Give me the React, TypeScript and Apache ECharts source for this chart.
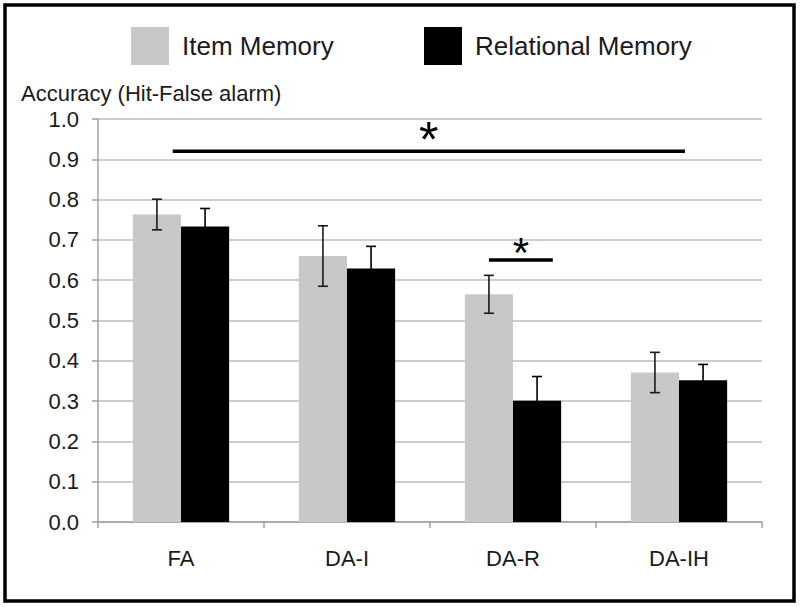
import React, { useEffect, useRef } from "react";
import * as echarts from "echarts";

const categories = ["FA", "DA-I", "DA-R", "DA-IH"];
const itemMean = [0.763, 0.66, 0.565, 0.371];
const itemErr = [0.038, 0.075, 0.047, 0.05];
const relMean = [0.733, 0.629, 0.301, 0.352];
const relErr = [0.045, 0.055, 0.06, 0.039];
const yTicks = [0, 0.1, 0.2, 0.3, 0.4, 0.5, 0.6, 0.7, 0.8, 0.9, 1.0];
// significance annotations (level, start/end in category units relative to FA)
const sigLevel = [0.92, 0.65];
const sigFrom = [-0.05, 1.855];
const sigTo = [3.036, 2.24];
const sigLabel = ["*", "*"];

const sigSize = [50, 42];
const sigRaise = [11, 7.5];
const FONT = "'Liberation Sans', Arial, Helvetica, sans-serif";
const GAP = 0.42;

function errRender(sign: number, color: string) {
  return (params: any, api: any) => {
    const i = api.value(0);
    const v = api.value(1);
    const e = api.value(2);
    const band = api.size([1, 0])[0];
    const off = (sign * band * (1 - GAP)) / 4;
    const top = api.coord([i, v + e]);
    const bot = api.coord([i, v - e]);
    const x = top[0] + off;
    const cap = 5;
    const style = { stroke: color, lineWidth: 1.6 };
    return {
      type: "group",
      children: [
        { type: "line", shape: { x1: x, y1: top[1], x2: x, y2: bot[1] }, style },
        { type: "line", shape: { x1: x - cap, y1: top[1], x2: x + cap, y2: top[1] }, style },
        { type: "line", shape: { x1: x - cap, y1: bot[1], x2: x + cap, y2: bot[1] }, style },
      ],
    };
  };
}

export default function App() {
  const ref = useRef<HTMLDivElement>(null);
  useEffect(() => {
    if (!ref.current) return;
    const chart = echarts.init(ref.current, undefined, { renderer: "svg" });
    const legendBase = {
      top: 22,
      itemWidth: 38,
      itemHeight: 38,
      icon: "rect",
      textStyle: { fontFamily: FONT, fontSize: 26, color: "#1a1a1a", padding: [0, 0, 0, 8] },
    };
    const option: any = {
      animation: false,
      backgroundColor: "#ffffff",
      textStyle: { fontFamily: FONT },
      title: {
        text: "Accuracy (Hit-False alarm)",
        left: 16,
        top: 77,
        textStyle: { fontFamily: FONT, fontSize: 22, fontWeight: "normal", color: "#1a1a1a" },
      },
      legend: [
        { ...legendBase, left: 126, data: ["Item Memory"] },
        { ...legendBase, left: 419, data: ["Relational Memory"] },
      ],
      grid: { left: 98, right: 38, top: 119, bottom: 85 },
      xAxis: {
        type: "category",
        data: categories,
        axisLine: { lineStyle: { color: "#a0a0a0", width: 1.5 } },
        axisTick: { show: true, length: 6, lineStyle: { color: "#a0a0a0", width: 1.5 } },
        axisLabel: { fontFamily: FONT, fontSize: 22, color: "#1a1a1a", margin: 25 },
      },
      yAxis: {
        type: "value",
        min: yTicks[0],
        max: yTicks[yTicks.length - 1],
        interval: 0.1,
        axisLine: { show: true, lineStyle: { color: "#a0a0a0", width: 1.5 } },
        axisTick: { show: true, length: 6, lineStyle: { color: "#a0a0a0", width: 1.5 } },
        axisLabel: {
          fontFamily: FONT,
          fontSize: 22,
          color: "#1a1a1a",
          margin: 19,
          formatter: (v: number) => v.toFixed(1),
        },
        splitLine: { lineStyle: { color: "#bdbdbd", width: 1.5 } },
      },
      series: [
        {
          name: "Item Memory",
          type: "bar",
          data: itemMean,
          barGap: "0%",
          barCategoryGap: GAP * 100 + "%",
          itemStyle: { color: "#c8c8c8" },
        },
        {
          name: "Relational Memory",
          type: "bar",
          data: relMean,
          itemStyle: { color: "#000000" },
        },
        {
          type: "custom",
          name: "itemErr",
          z: 5,
          renderItem: errRender(-1, "#1a1a1a"),
          encode: { x: 0, y: 1 },
          data: itemMean.map((v, i) => [i, v, itemErr[i]]),
        },
        {
          type: "custom",
          name: "relErr",
          z: 5,
          renderItem: errRender(1, "#000000"),
          encode: { x: 0, y: 1 },
          data: relMean.map((v, i) => [i, v, relErr[i]]),
        },
        {
          type: "custom",
          name: "sig",
          z: 6,
          encode: { x: 0, y: 1 },
          data: sigLevel.map((lv, i) => [0, lv, sigFrom[i], sigTo[i], i]),
          renderItem: (params: any, api: any) => {
            const lv = api.value(1);
            const f = api.value(2);
            const t = api.value(3);
            const k = api.value(4);
            const band = api.size([1, 0])[0];
            const base = api.coord([0, lv]);
            const x1 = base[0] + f * band;
            const x2 = base[0] + t * band;
            const y = base[1];
            const fs = sigSize[k];
            return {
              type: "group",
              children: [
                {
                  type: "line",
                  shape: { x1, y1: y, x2, y2: y },
                  style: { stroke: "#000", lineWidth: 3.5 },
                },
                {
                  type: "text",
                  x: (x1 + x2) / 2,
                  y: y - sigRaise[k],
                  style: {
                    text: sigLabel[k],
                    fontFamily: FONT,
                    fontSize: fs,
                    fill: "#000",
                    align: "center",
                    verticalAlign: "middle",
                  },
                },
              ],
            };
          },
        },
      ],
      graphic: [
        {
          type: "rect",
          shape: { x: 5, y: 5, width: 789, height: 596 },
          style: { fill: "none", stroke: "#000", lineWidth: 3.5 },
          z: 100,
        },
      ],
    };
    chart.setOption(option);
    return () => chart.dispose();
  }, []);
  return (
    <div
      ref={ref}
      style={{ position: "fixed", left: 0, top: 0, width: 800, height: 607 }}
    />
  );
}
